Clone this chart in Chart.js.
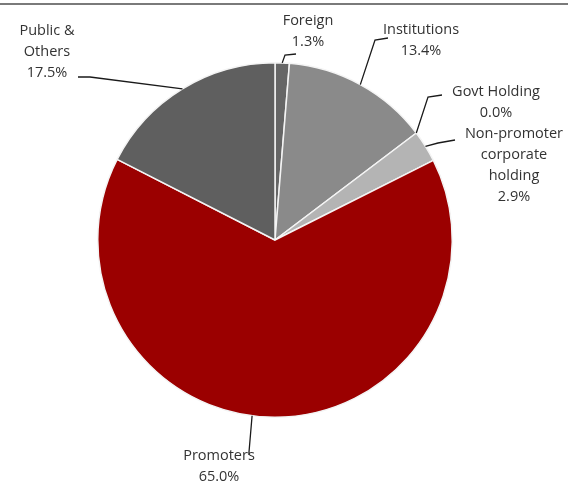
<!DOCTYPE html>
<html>
<head>
<meta charset="utf-8">
<script src="https://cdn.jsdelivr.net/npm/chart.js@4/dist/chart.umd.min.js"></script>
<style>
  html, body { margin: 0; padding: 0; background: #ffffff; }
  #wrap { position: relative; width: 568px; height: 481px; overflow: hidden; }
  #topRule { position: absolute; left: 0; top: 3px; width: 568px; height: 2px; background: #7a7a7a; }
  canvas { position: absolute; left: 0; top: 0; }
</style>
</head>
<body>
<div id="wrap">
  <canvas id="chart" width="568" height="481"></canvas>
  <div id="topRule"></div>
</div>
<script>
// Shareholding pattern, slices clockwise from 12 o'clock
const categories = ['Foreign', 'Institutions', 'Govt Holding', 'Non-promoter corporate holding', 'Promoters', 'Public & Others'];
const shares = [1.3, 13.4, 0.0, 2.9, 65.0, 17.5];
const labelLines = [
  ['Foreign'],
  ['Institutions'],
  ['Govt Holding'],
  ['Non-promoter', 'corporate', 'holding'],
  ['Promoters'],
  ['Public &', 'Others']
];
const sliceColors = ['#666666', '#8a8a8a', '#9a9a9a', '#b4b4b4', '#9b0000', '#5f5f5f'];

// Label placement: text centre, first line y, leader elbow and end, anchor position inside the slice
const labelLayout = [
  { cx: 308, y: 21,  elbow: [285, 55],  end: [296, 54],  frac: 0.5 },
  { cx: 421, y: 30,  elbow: [375, 40],  end: [388, 38],  frac: 0.5 },
  { cx: 496, y: 92,  elbow: [428, 97],  end: [442, 95],  frac: 0.5 },
  { cx: 514, y: 134, elbow: [438, 143], end: [455, 140], frac: 0.5 },
  { cx: 219, y: 456, elbow: [249, 452], end: [249, 455], frac: 0.531 },
  { cx: 47,  y: 31,  elbow: [90, 77],   end: [78, 77],   frac: 0.5 }
];

const outsideLabels = {
  id: 'outsideLabels',
  afterDatasetsDraw(chart) {
    const ctx = chart.ctx;
    const meta = chart.getDatasetMeta(0);
    const values = chart.data.datasets[0].data;
    ctx.save();
    meta.data.forEach((arc, i) => {
      const p = arc.getProps(['x', 'y', 'startAngle', 'endAngle', 'outerRadius'], true);
      const lay = labelLayout[i];
      const a = p.startAngle + (p.endAngle - p.startAngle) * lay.frac;
      const ax = p.x + Math.cos(a) * p.outerRadius;
      const ay = p.y + Math.sin(a) * p.outerRadius;
      ctx.strokeStyle = '#1a1a1a';
      ctx.lineWidth = 1.3;
      ctx.beginPath();
      ctx.moveTo(ax, ay);
      ctx.lineTo(lay.elbow[0], lay.elbow[1]);
      ctx.lineTo(lay.end[0], lay.end[1]);
      ctx.stroke();

      const lines = labelLines[i].concat([values[i].toFixed(1) + '%']);
      ctx.fillStyle = '#333333';
      ctx.font = '14.5px "Open Sans", sans-serif';
      ctx.textAlign = 'center';
      ctx.textBaseline = 'middle';
      lines.forEach((t, k) => ctx.fillText(t, lay.cx, lay.y + k * 21));
    });
    ctx.restore();
  }
};

new Chart(document.getElementById('chart'), {
  type: 'pie',
  data: {
    labels: categories,
    datasets: [{
      data: shares,
      backgroundColor: sliceColors,
      borderColor: '#f4f4f4',
      borderWidth: 1.5
    }]
  },
  options: {
    responsive: false,
    animation: false,
    layout: { padding: { left: 97, right: 115, top: 62, bottom: 63 } },
    plugins: {
      legend: { display: false },
      tooltip: { enabled: false }
    }
  },
  plugins: [outsideLabels]
});
</script>
</body>
</html>
